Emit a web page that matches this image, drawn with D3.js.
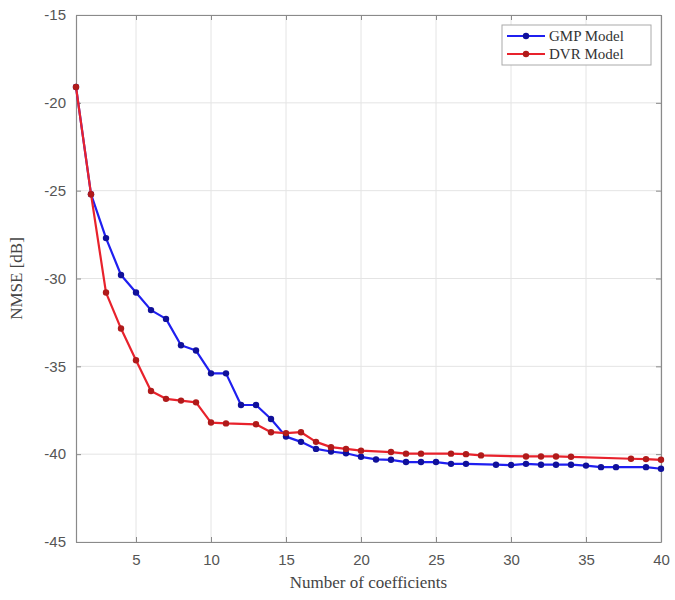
<!DOCTYPE html>
<html>
<head>
<meta charset="utf-8">
<script src="https://cdn.jsdelivr.net/npm/d3@7"></script>
<style>
  html, body { margin: 0; padding: 0; background: #fff; }
  svg { display: block; }
</style>
</head>
<body>
<svg id="chart" width="675" height="600"></svg>
<script>
// ---- data ----
const gmpX = [1,2,3,4,5,6,7,8,9,10,11,12,13,14,15,16,17,18,19,20,21,22,23,24,25,26,27,29,30,31,32,33,34,35,36,37,39,40];
const gmpY = [-19.1,-25.2,-27.7,-29.8,-30.8,-31.8,-32.3,-33.8,-34.1,-35.4,-35.4,-37.2,-37.2,-38.0,-39.0,-39.3,-39.7,-39.85,-39.95,-40.15,
              -40.3,-40.32,-40.45,-40.45,-40.45,-40.55,-40.55,-40.6,-40.62,-40.55,-40.6,-40.6,-40.6,-40.65,-40.74,-40.74,-40.74,-40.83];
const dvrX = [1,2,3,4,5,6,7,8,9,10,11,13,14,15,16,17,18,19,20,22,23,24,26,27,28,31,32,33,34,38,39,40];
const dvrY = [-19.1,-25.2,-30.8,-32.85,-34.65,-36.4,-36.85,-36.95,-37.05,-38.2,-38.25,-38.3,-38.75,-38.8,-38.75,-39.3,-39.6,-39.7,-39.8,
              -39.88,-39.97,-39.97,-39.97,-40.0,-40.07,-40.13,-40.13,-40.13,-40.15,-40.26,-40.28,-40.32];
const xTicks = [5,10,15,20,25,30,35,40];
const yTicks = [-45,-40,-35,-30,-25,-20,-15];
const seriesNames = ["GMP Model","DVR Model"];
const xLabel = "Number of coefficients";
const yLabel = "NMSE [dB]";

(function () {
// ---- layout ----
const mLeft = 76, mRight = 661, mTop = 15, mBottom = 542;
const svg = d3.select("#chart");
const x = d3.scaleLinear().domain([1,40]).range([mLeft,mRight]);
const y = d3.scaleLinear().domain([-45,-15]).range([mBottom,mTop]);

// grid
const grid = svg.append("g");
grid.selectAll("line.vx").data(xTicks).enter().append("line")
  .attr("x1", d=>x(d)).attr("x2", d=>x(d)).attr("y1", mTop).attr("y2", mBottom)
  .attr("stroke", "#e4e4e4").attr("stroke-width", 1);
grid.selectAll("line.hy").data(yTicks).enter().append("line")
  .attr("y1", d=>y(d)).attr("y2", d=>y(d)).attr("x1", mLeft).attr("x2", mRight)
  .attr("stroke", "#e4e4e4").attr("stroke-width", 1);

// axes
const axColor = "#8a8a8a";
const plain = d => String(d);
const xb = svg.append("g").attr("transform", `translate(0,${mBottom})`)
  .call(d3.axisBottom(x).tickValues(xTicks).tickFormat(plain).tickSizeInner(-5).tickSizeOuter(0).tickPadding(12));
const xt = svg.append("g").attr("transform", `translate(0,${mTop})`)
  .call(d3.axisTop(x).tickValues(xTicks).tickSizeInner(-5).tickSizeOuter(0).tickFormat(""));
const yl = svg.append("g").attr("transform", `translate(${mLeft},0)`)
  .call(d3.axisLeft(y).tickValues(yTicks).tickFormat(plain).tickSizeInner(-5).tickSizeOuter(0).tickPadding(10));
const yr = svg.append("g").attr("transform", `translate(${mRight},0)`)
  .call(d3.axisRight(y).tickValues(yTicks).tickSizeInner(-5).tickSizeOuter(0).tickFormat(""));
[xb,xt,yl,yr].forEach(g => {
  g.select(".domain").attr("stroke", axColor).attr("stroke-width", 1.2);
  g.selectAll(".tick line").attr("stroke", axColor);
  g.selectAll(".tick text").attr("fill", "#555").attr("font-family", "'Liberation Sans', Arial, sans-serif").attr("font-size", 15);
});

// series
const blueLine = "#1f1ff0", blueMark = "#10109a";
const redLine = "#e8222c", redMark = "#b01a1a";
const gmp = gmpX.map((d,i)=>({x:d, y:gmpY[i]}));
const dvr = dvrX.map((d,i)=>({x:d, y:dvrY[i]}));
const line = d3.line().x(d=>x(d.x)).y(d=>y(d.y));

function drawSeries(data, lc, mc) {
  svg.append("path").datum(data).attr("d", line)
    .attr("fill", "none").attr("stroke", lc).attr("stroke-width", 2.2).attr("stroke-linejoin", "round");
  svg.append("g").selectAll("circle").data(data).enter().append("circle")
    .attr("cx", d=>x(d.x)).attr("cy", d=>y(d.y)).attr("r", 3.2).attr("fill", mc);
}
drawSeries(gmp, blueLine, blueMark);
drawSeries(dvr, redLine, redMark);

// legend
const lg = svg.append("g");
lg.append("rect").attr("x", 502).attr("y", 25).attr("width", 149).attr("height", 40)
  .attr("fill", "#fff").attr("stroke", "#aaa").attr("stroke-width", 1);
const legendItems = [{name: seriesNames[0], lc: blueLine, mc: blueMark}, {name: seriesNames[1], lc: redLine, mc: redMark}];
legendItems.forEach((it, i) => {
  const ly = 36 + i*18;
  lg.append("line").attr("x1", 507).attr("x2", 545).attr("y1", ly).attr("y2", ly)
    .attr("stroke", it.lc).attr("stroke-width", 2.2);
  lg.append("circle").attr("cx", 526).attr("cy", ly).attr("r", 3.2).attr("fill", it.mc);
  lg.append("text").attr("x", 549).attr("y", ly + 5).text(it.name)
    .attr("font-family", "'Liberation Serif', 'Times New Roman', serif").attr("font-size", 15).attr("fill", "#333");
});

// axis titles
svg.append("text").attr("x", (mLeft+mRight)/2).attr("y", 588).attr("text-anchor", "middle")
  .attr("font-family", "'Liberation Serif', 'Times New Roman', serif").attr("font-size", 17).attr("fill", "#444")
  .text(xLabel);
svg.append("text").attr("transform", `translate(22,${(mTop+mBottom)/2}) rotate(-90)`).attr("text-anchor", "middle")
  .attr("font-family", "'Liberation Serif', 'Times New Roman', serif").attr("font-size", 17).attr("fill", "#444")
  .text(yLabel);
})();
</script>
</body>
</html>
